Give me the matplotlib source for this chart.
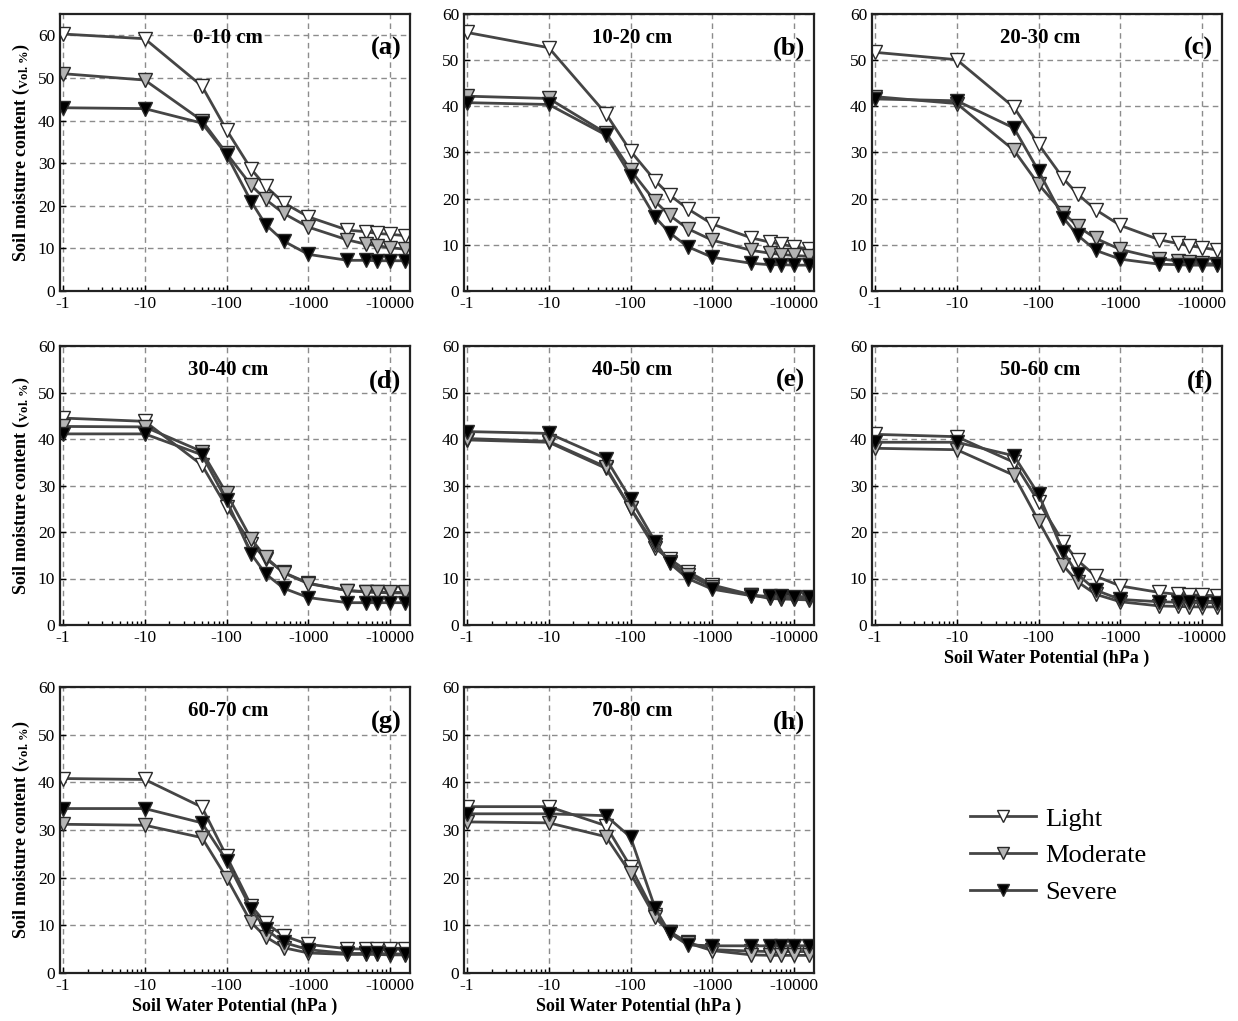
import matplotlib
matplotlib.use("Agg")
import matplotlib.pyplot as plt
from matplotlib.ticker import FixedLocator, FixedFormatter, LogLocator, NullFormatter
from matplotlib.lines import Line2D

plt.rcParams["font.family"] = ["Liberation Serif", "DejaVu Serif"]
plt.rcParams["mathtext.fontset"] = "custom"
plt.rcParams["mathtext.rm"] = "Liberation Serif"

# soil water potential magnitudes (hPa), plotted as negative labels
potential = [1, 10, 50, 100, 200, 300, 500, 1000, 3000, 5000, 7000, 10000, 15000]

depths = ["0-10 cm", "10-20 cm", "20-30 cm", "30-40 cm",
          "40-50 cm", "50-60 cm", "60-70 cm", "70-80 cm"]
panel_tags = ["(a)", "(b)", "(c)", "(d)", "(e)", "(f)", "(g)", "(h)"]

light = [
    [60.3, 59.2, 48.1, 37.8, 28.6, 24.6, 20.7, 17.4, 14.3, 13.9, 13.5, 13.3, 13.0],
    [56.0, 52.7, 38.4, 30.3, 23.9, 20.8, 17.8, 14.5, 11.5, 10.6, 10.1, 9.6, 9.1],
    [51.7, 50.1, 39.8, 31.8, 24.4, 21.0, 17.6, 14.2, 11.1, 10.3, 9.8, 9.4, 8.9],
    [44.5, 43.8, 34.4, 25.4, 17.5, 14.3, 11.3, 9.0, 7.4, 7.1, 7.0, 6.9, 6.9],
    [39.8, 39.3, 33.7, 25.1, 16.5, 14.2, 11.5, 8.6, 6.5, 5.7, 5.6, 5.5, 5.4],
    [41.0, 40.5, 35.0, 26.5, 17.8, 13.9, 10.5, 8.4, 7.0, 6.6, 6.5, 6.4, 6.3],
    [40.8, 40.6, 34.8, 24.5, 14.1, 10.5, 7.8, 6.0, 5.1, 5.0, 5.0, 5.0, 5.0],
    [34.9, 34.9, 30.9, 22.3, 12.2, 8.7, 6.4, 4.9, 4.6, 4.5, 4.5, 4.5, 4.5],
]
moderate = [
    [51.0, 49.5, 40.0, 32.3, 24.8, 21.5, 18.2, 15.0, 12.0, 11.0, 10.6, 10.2, 9.8],
    [42.2, 41.7, 34.2, 26.2, 19.4, 16.4, 13.5, 11.0, 8.8, 8.2, 7.9, 7.7, 7.5],
    [42.1, 40.6, 30.5, 23.1, 17.0, 14.0, 11.4, 9.0, 7.0, 6.5, 6.3, 6.0, 5.8],
    [42.7, 42.6, 37.3, 28.3, 18.5, 14.6, 11.2, 8.9, 7.4, 7.2, 7.1, 7.0, 7.0],
    [40.1, 39.5, 34.0, 25.1, 17.2, 13.6, 10.8, 8.2, 6.4, 6.0, 5.9, 5.8, 5.7],
    [38.0, 37.7, 32.2, 22.4, 12.8, 9.3, 6.6, 5.0, 4.1, 4.0, 3.9, 3.9, 3.9],
    [31.2, 31.0, 28.4, 20.0, 10.6, 7.6, 5.3, 4.2, 3.9, 3.9, 3.9, 3.8, 3.8],
    [31.7, 31.5, 28.6, 20.9, 11.7, 8.5, 6.3, 4.7, 3.8, 3.7, 3.7, 3.7, 3.7],
]
severe = [
    [43.0, 42.8, 39.4, 32.0, 21.0, 15.6, 11.7, 8.6, 7.2, 7.2, 7.1, 7.1, 7.1],
    [40.8, 40.4, 33.8, 25.0, 16.0, 12.6, 9.6, 7.3, 6.0, 5.7, 5.7, 5.6, 5.6],
    [41.6, 41.2, 35.3, 26.0, 15.9, 12.1, 8.8, 6.9, 5.8, 5.7, 5.6, 5.6, 5.6],
    [41.1, 41.1, 36.6, 26.8, 15.3, 11.0, 7.9, 5.9, 4.8, 4.8, 4.8, 4.8, 4.8],
    [41.6, 41.2, 35.8, 27.1, 17.9, 13.3, 10.0, 7.7, 6.3, 6.2, 6.2, 6.1, 6.1],
    [39.3, 39.3, 36.4, 28.1, 15.8, 10.9, 7.5, 5.5, 5.0, 4.9, 4.9, 4.8, 4.8],
    [34.5, 34.5, 31.5, 23.6, 13.4, 9.2, 6.4, 4.9, 4.1, 4.1, 4.1, 4.0, 4.0],
    [33.4, 33.4, 33.0, 28.5, 13.6, 8.4, 5.9, 5.7, 5.7, 5.7, 5.7, 5.7, 5.7],
]

xticks = [1, 10, 100, 1000, 10000]
xtick_labels = ["-1", "-10", "-100", "-1000", "-10000"]
yticks = [0, 10, 20, 30, 40, 50, 60]

W, H = 1238, 1021
lefts = [60, 464, 872]
tops = [14, 346, 687]
heights = [277, 279, 286]
width = 350

line_c = "#454545"
edge_c = "#2a2a2a"
styles = [("Light", "white"), ("Moderate", "#b4b4b4"), ("Severe", "black")]

fig = plt.figure(figsize=(W / 100, H / 100), dpi=100)

for i in range(8):
    r, c = divmod(i, 3)
    ax = fig.add_axes([lefts[c] / W, 1 - (tops[r] + heights[r]) / H,
                       width / W, heights[r] / H])
    for series, (name, fc) in zip([light[i], moderate[i], severe[i]], styles):
        ax.plot(potential, series, color=line_c, lw=2, marker="v", ms=10,
                mfc=fc, mec=edge_c, mew=1, label=name)
    ax.set_xscale("log")
    ax.set_xlim(0.92, 17500)
    ax.set_ylim(0, 65 if i == 0 else 60)
    ax.xaxis.set_major_locator(FixedLocator(xticks))
    ax.xaxis.set_major_formatter(FixedFormatter(xtick_labels))
    ax.xaxis.set_minor_locator(LogLocator(base=10, subs=range(2, 10)))
    ax.xaxis.set_minor_formatter(NullFormatter())
    ax.set_yticks(yticks)
    ax.tick_params(which="both", direction="in", labelsize=12.5, color="black")
    ax.tick_params(which="major", length=4, width=1)
    ax.tick_params(which="minor", length=3, width=1)
    ax.grid(True, which="major", ls=(0, (4, 3)), color="#8c8c8c", lw=1)
    for s in ax.spines.values():
        s.set_linewidth(1.6)
        s.set_color("#222222")
    ax.text(0.48, 0.915, depths[i], transform=ax.transAxes, ha="center",
            va="center", fontsize=15, fontweight="bold")
    ax.text(0.975, 0.875, panel_tags[i], transform=ax.transAxes, ha="right",
            va="center", fontsize=19, fontweight="bold")
    if c == 0:
        ax.set_ylabel(r"Soil moisture content ($\mathregular{_{Vol.\%}}$)",
                      fontsize=13, fontweight="bold", labelpad=4)
    if i >= 5:
        ax.set_xlabel("Soil Water Potential (hPa )", fontsize=13,
                      fontweight="bold", labelpad=3)

handles = [Line2D([], [], color=line_c, lw=2, marker="v", ms=8, mfc=fc,
                  mec=edge_c, mew=1) for _, fc in styles]
fig.legend(handles, [n for n, _ in styles], loc="upper left",
           bbox_to_anchor=(957 / W, 1 - 794 / H), frameon=False,
           fontsize=19, handlelength=2.5, handletextpad=0.35,
           labelspacing=0.5, borderpad=0)

fig.savefig("out.png", dpi=100)
